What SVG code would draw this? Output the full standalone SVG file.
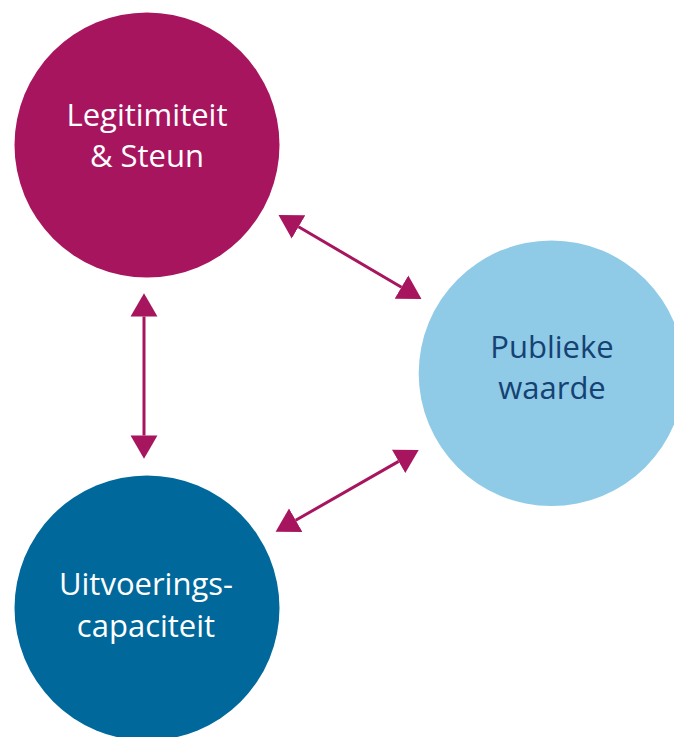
<svg xmlns="http://www.w3.org/2000/svg" width="674" height="737" viewBox="0 0 674 737">
<style>
.lbl{font-family:"Open Sans","Noto Sans","Liberation Sans",sans-serif;font-size:31px;text-anchor:middle}
.w{fill:#ffffff}
.d{fill:#154273}
.con{stroke:#a8155f;stroke-width:3;fill:none}
</style>
<defs>
<marker id="ah" markerUnits="userSpaceOnUse" markerWidth="24" markerHeight="28" viewBox="0 -13 22 26" refX="0" refY="0" orient="auto-start-reverse">
<path d="M0,-12.5 L21.5,0 L0,12.5 Z" fill="#a8155f"/>
</marker>
</defs>
<rect width="674" height="737" fill="#ffffff"/>
<g id="legitimiteit">
<circle cx="147" cy="145" r="132.5" fill="#a8155f"/>
<text class="lbl w" x="147" y="126">Legitimiteit</text>
<text class="lbl w" x="147" y="167">&amp; Steun</text>
</g>
<g id="publieke-waarde">
<circle cx="551.5" cy="373.3" r="132.8" fill="#8fcae7"/>
<text class="lbl d" x="552" y="358">Publieke</text>
<text class="lbl d" x="552" y="399">waarde</text>
</g>
<g id="uitvoeringscapaciteit">
<circle cx="147" cy="608" r="132.5" fill="#01689b"/>
<text class="lbl w" x="146" y="595">Uitvoerings-</text>
<text class="lbl w" x="146" y="637">capaciteit</text>
</g>
<g id="connectors">
<line class="con" x1="144" y1="316.5" x2="144" y2="435.5" marker-start="url(#ah)" marker-end="url(#ah)"/>
<line class="con" x1="298.5" y1="226.8" x2="401.5" y2="287.2" marker-start="url(#ah)" marker-end="url(#ah)"/>
<line class="con" x1="295.7" y1="520.3" x2="398.6" y2="461.4" marker-start="url(#ah)" marker-end="url(#ah)"/>
</g>
</svg>
